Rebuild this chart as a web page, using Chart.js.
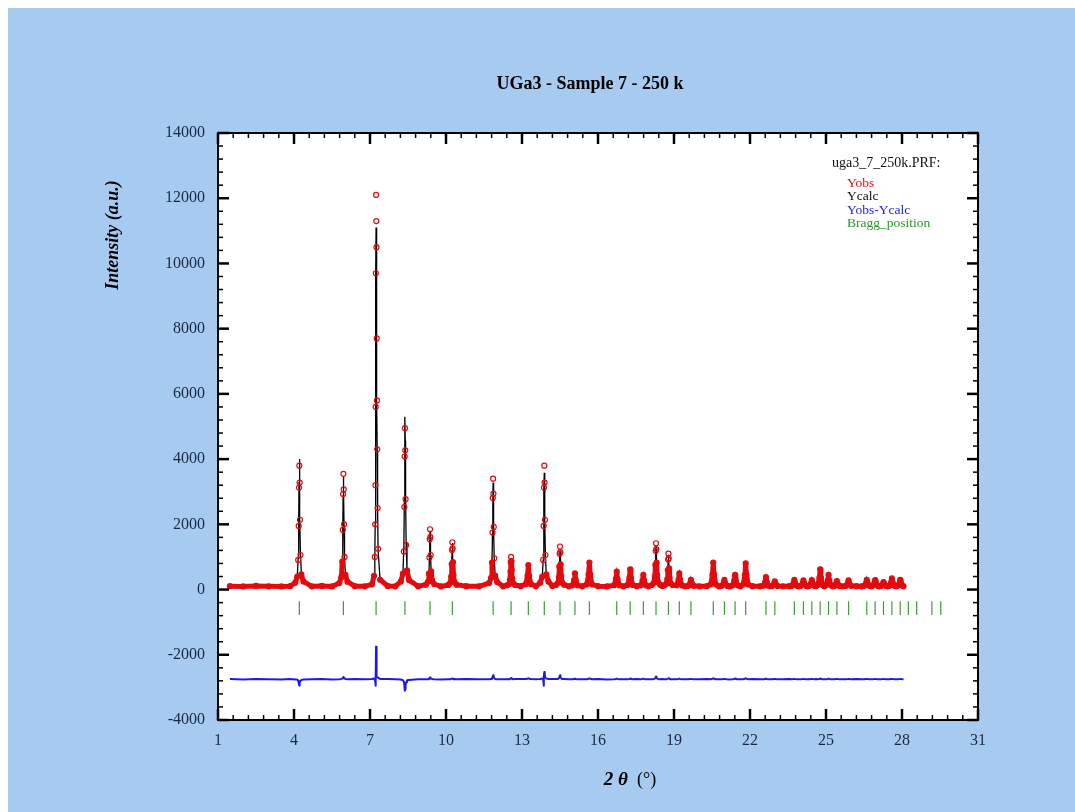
<!DOCTYPE html>
<html>
<head>
<meta charset="utf-8">
<script src="https://cdn.jsdelivr.net/npm/chart.js@4.4.0/dist/chart.umd.min.js"></script>
<style>
  html, body { margin: 0; padding: 0; background: #fff; }
  .frame { position: absolute; left: 8px; top: 8px; width: 1067px; height: 804px; background: #a6caf0; }
  canvas { display: block; }
</style>
</head>
<body>
<div class="frame"><canvas id="prf" width="1067" height="804"></canvas></div>
<script>
// 2theta steps (background stretches + points through each peak)
const twoTheta = [
  1.47, 2.0, 2.5, 3.0, 3.5, 3.85,
  4.05, 4.13, 4.165, 4.185, 4.198, 4.21, 4.222, 4.235, 4.255, 4.29, 4.37,
  4.7, 5.1, 5.5,
  5.79, 5.87, 5.905, 5.925, 5.938, 5.95, 5.962, 5.975, 5.995, 6.03, 6.11,
  6.4, 6.8,
  7.08, 7.16, 7.19, 7.205, 7.215, 7.225, 7.232, 7.24, 7.248, 7.255, 7.265, 7.275, 7.285, 7.30, 7.32, 7.40,
  7.7, 8.0,
  8.22, 8.30, 8.335, 8.355, 8.368, 8.38, 8.392, 8.405, 8.425, 8.46, 8.54,
  8.9,
  9.21, 9.29, 9.325, 9.345, 9.358, 9.37, 9.382, 9.395, 9.415, 9.45, 9.53,
  9.8,
  10.09, 10.17, 10.205, 10.225, 10.238, 10.25, 10.262, 10.275, 10.295, 10.33, 10.41,
  10.8, 11.3,
  11.70, 11.78, 11.815, 11.835, 11.848, 11.86, 11.872, 11.885, 11.905, 11.94, 12.02,
  12.25,
  12.41, 12.49, 12.525, 12.545, 12.558, 12.57, 12.582, 12.595, 12.615, 12.65, 12.73,
  12.95,
  13.15, 13.22, 13.25, 13.28, 13.35,
  13.55,
  13.72, 13.80, 13.835, 13.855, 13.868, 13.88, 13.892, 13.905, 13.925, 13.96, 14.04,
  14.2,
  14.34, 14.42, 14.455, 14.475, 14.488, 14.50, 14.512, 14.525, 14.545, 14.58, 14.66,
  14.85,
  14.99, 15.06, 15.09, 15.12, 15.19,
  15.38,
  15.56, 15.63, 15.66, 15.69, 15.76,
  16.0, 16.35,
  16.64, 16.71, 16.74, 16.77, 16.84,
  17.0,
  17.17, 17.24, 17.27, 17.30, 17.37,
  17.53,
  17.69, 17.76, 17.79, 17.82, 17.89,
  18.0,
  18.13, 18.21, 18.245, 18.265, 18.278, 18.29, 18.302, 18.315, 18.335, 18.37, 18.45,
  18.54,
  18.62, 18.70, 18.735, 18.755, 18.768, 18.78, 18.792, 18.805, 18.825, 18.86, 18.94,
  19.11, 19.18, 19.21, 19.24, 19.31,
  19.44,
  19.57, 19.64, 19.67, 19.70, 19.77,
  20.0, 20.3,
  20.45, 20.52, 20.55, 20.58, 20.65,
  20.77,
  20.89, 20.96, 20.99, 21.02, 21.09,
  21.2,
  21.31, 21.38, 21.41, 21.44, 21.51,
  21.62,
  21.73, 21.80, 21.83, 21.86, 21.93,
  22.1, 22.4,
  22.53, 22.60, 22.63, 22.66, 22.73,
  22.8,
  22.88, 22.95, 22.98, 23.01, 23.08,
  23.3, 23.55,
  23.65, 23.72, 23.75, 23.78, 23.85,
  23.93,
  24.01, 24.08, 24.11, 24.14, 24.21,
  24.28,
  24.34, 24.41, 24.44, 24.47, 24.54,
  24.6,
  24.67, 24.74, 24.77, 24.80, 24.87,
  24.93,
  25.00, 25.07, 25.10, 25.13, 25.20,
  25.27,
  25.33, 25.40, 25.43, 25.46, 25.53,
  25.66,
  25.79, 25.86, 25.89, 25.92, 25.99,
  26.2, 26.4,
  26.51, 26.58, 26.61, 26.64, 26.71,
  26.78,
  26.84, 26.91, 26.94, 26.97, 27.04,
  27.1,
  27.17, 27.24, 27.27, 27.30, 27.37,
  27.44,
  27.50, 27.57, 27.60, 27.63, 27.70,
  27.77,
  27.83, 27.90, 27.93, 27.96, 28.03,
  28.06
];

const yObs = [
  105, 95, 110, 100, 95, 105,
  210, 400, 910, 1950, 3130, 3800, 3280, 2140, 1060, 470, 250,
  100, 110, 95,
  200, 380, 860, 1830, 2930, 3550, 3070, 2000, 1000, 450, 240,
  105, 100,
  160, 420, 1000, 2000, 3200, 5600, 9700, 12100, 11300, 10500, 7700, 5800, 4300, 2500, 1250, 300,
  110, 100,
  250, 490, 1170, 2530, 4080, 4950, 4270, 2770, 1360, 590, 290,
  100,
  150, 240, 490, 980, 1540, 1850, 1610, 1060, 560, 280, 170,
  95,
  140, 210, 400, 780, 1210, 1450, 1260, 840, 450, 240, 150,
  105, 100,
  200, 360, 830, 1750, 2810, 3400, 2940, 1920, 960, 430, 230,
  100,
  130, 170, 300, 550, 840, 1000, 870, 600, 330, 190, 140,
  105,
  165, 425, 750, 425, 165,
  100,
  210, 400, 910, 1950, 3130, 3800, 3280, 2140, 1060, 470, 250,
  110,
  140, 200, 370, 710, 1100, 1320, 1150, 770, 420, 220, 150,
  100,
  130, 300, 500, 300, 130,
  100,
  160, 465, 830, 465, 160,
  105, 95,
  135, 325, 550, 325, 135,
  100,
  140, 360, 620, 360, 140,
  105,
  130, 275, 450, 275, 130,
  100,
  140, 210, 390, 760, 1180, 1420, 1240, 830, 440, 230, 150,
  110,
  130, 180, 320, 600, 920, 1100, 960, 650, 360, 200, 140,
  130, 300, 500, 300, 130,
  100,
  115, 200, 300, 200, 115,
  100, 105,
  160, 465, 830, 465, 160,
  100,
  115, 200, 300, 200, 115,
  95,
  130, 275, 450, 275, 130,
  100,
  155, 450, 800, 450, 155,
  105, 100,
  120, 240, 380, 240, 120,
  100,
  110, 175, 250, 175, 110,
  100, 105,
  115, 200, 300, 200, 115,
  100,
  115, 190, 280, 190, 115,
  100,
  115, 195, 290, 195, 115,
  105,
  140, 360, 620, 360, 140,
  100,
  130, 275, 450, 275, 130,
  100,
  110, 180, 260, 180, 110,
  100,
  115, 190, 280, 190, 115,
  105, 100,
  115, 200, 300, 200, 115,
  100,
  115, 195, 290, 195, 115,
  100,
  110, 165, 230, 165, 110,
  100,
  120, 220, 340, 220, 120,
  100,
  115, 200, 300, 200, 115,
  100
];

const yCalc = [
  100, 100, 100, 100, 100, 100,
  220, 410, 960, 2050, 3300, 4000, 3450, 2250, 1110, 490, 260,
  100, 100, 100,
  200, 370, 840, 1790, 2870, 3480, 3010, 1960, 980, 440, 240,
  100, 100,
  150, 400, 980, 2050, 3350, 5800, 9600, 11100, 10900, 10300, 7600, 5750, 4250, 2450, 1200, 290,
  100, 100,
  260, 520, 1240, 2700, 4360, 5300, 4570, 2960, 1450, 620, 310,
  100,
  150, 240, 470, 950, 1490, 1800, 1560, 1040, 540, 270, 170,
  100,
  140, 210, 390, 770, 1190, 1430, 1240, 830, 450, 230, 150,
  100, 100,
  200, 350, 800, 1690, 2710, 3280, 2840, 1850, 930, 420, 230,
  100,
  130, 170, 290, 530, 810, 960, 840, 570, 320, 190, 130,
  100,
  160, 410, 720, 410, 160,
  100,
  200, 380, 900, 2150, 3050, 3580, 3090, 2010, 1010, 450, 240,
  100,
  130, 190, 340, 650, 1000, 1200, 1050, 710, 390, 210, 140,
  100,
  130, 290, 480, 290, 130,
  100,
  160, 450, 800, 450, 160,
  100, 100,
  135, 315, 530, 315, 135,
  100,
  140, 350, 600, 350, 140,
  100,
  130, 265, 430, 265, 130,
  100,
  140, 200, 370, 720, 1120, 1340, 1170, 780, 420, 220, 150,
  100,
  130, 180, 310, 590, 900, 1070, 930, 630, 350, 200, 140,
  130, 290, 480, 290, 130,
  100,
  115, 195, 290, 195, 115,
  100, 100,
  160, 450, 800, 450, 160,
  100,
  115, 195, 290, 195, 115,
  100,
  130, 265, 430, 265, 130,
  100,
  155, 435, 770, 435, 155,
  100, 100,
  120, 230, 360, 230, 120,
  100,
  110, 170, 240, 170, 110,
  100, 100,
  115, 195, 290, 195, 115,
  100,
  115, 185, 270, 185, 115,
  100,
  115, 190, 280, 190, 115,
  100,
  140, 350, 600, 350, 140,
  100,
  130, 265, 430, 265, 130,
  100,
  110, 175, 250, 175, 110,
  100,
  115, 185, 270, 185, 115,
  100, 100,
  115, 195, 290, 195, 115,
  100,
  115, 190, 280, 190, 115,
  100,
  110, 160, 220, 160, 110,
  100,
  120, 215, 330, 215, 120,
  100,
  115, 195, 290, 195, 115,
  100
];

// Yobs-Ycalc is plotted shifted down by this amount
const diffOffset = -2750;

// Bragg reflection positions (green ticks)
const braggPos = [
  4.21, 5.95, 7.24, 8.38, 9.37, 10.25, 11.86, 12.57, 13.25, 13.88, 14.50, 15.09, 15.66,
  16.74, 17.27, 17.79, 18.29, 18.78, 19.21, 19.67, 20.55, 20.99, 21.41, 21.83,
  22.63, 22.98, 23.75, 24.11, 24.44, 24.77, 25.10, 25.43, 25.89,
  26.61, 26.94, 27.27, 27.60, 27.93, 28.25, 28.58, 29.18, 29.53
];
const braggTop = -360;
const braggBottom = -780;

const xTickValues = [1, 4, 7, 10, 13, 16, 19, 22, 25, 28, 31];
const yTickValues = [-4000, -2000, 0, 2000, 4000, 6000, 8000, 10000, 12000, 14000];

const serif = '"Liberation Serif", "Times New Roman", serif';
const red = 'rgb(228, 10, 14)';

const obsPoints = twoTheta.map((x, i) => ({ x: x, y: yObs[i] }));
const calcPoints = twoTheta.map((x, i) => ({ x: x, y: yCalc[i] }));
const diffPoints = twoTheta.map((x, i) => ({ x: x, y: yObs[i] - yCalc[i] + diffOffset }));
const braggPoints = [];
braggPos.forEach(p => {
  braggPoints.push({ x: p, y: braggTop }, { x: p, y: braggBottom }, { x: p, y: null });
});

const prfPlugin = {
  id: 'prfDecor',
  beforeDraw(chart) {
    const { ctx, chartArea: a } = chart;
    ctx.save();
    ctx.fillStyle = '#fff';
    ctx.fillRect(a.left, a.top, a.right - a.left, a.bottom - a.top);
    ctx.restore();
  },
  afterDatasetsDraw(chart) {
    const { ctx, chartArea: a } = chart;
    const xs = chart.scales.x, ys = chart.scales.y;
    ctx.save();
    ctx.strokeStyle = '#000';
    const tick = (x1, y1, x2, y2) => { ctx.beginPath(); ctx.moveTo(x1, y1); ctx.lineTo(x2, y2); ctx.stroke(); };

    ctx.lineWidth = 1.5;
    for (let i = 1; i < 50; i++) {
      if (i % 5 === 0) continue;
      const px = xs.getPixelForValue(1 + i * 0.6);
      tick(px, a.bottom, px, a.bottom - 5);
      tick(px, a.top, px, a.top + 5);
    }
    for (let i = 1; i < 45; i++) {
      if (i % 5 === 0) continue;
      const py = ys.getPixelForValue(-4000 + i * 400);
      tick(a.left, py, a.left + 5, py);
      tick(a.right, py, a.right - 5, py);
    }
    ctx.lineWidth = 2.5;
    xTickValues.forEach(v => {
      const px = xs.getPixelForValue(v);
      tick(px, a.bottom, px, a.bottom - 11);
      tick(px, a.top, px, a.top + 11);
    });
    yTickValues.forEach(v => {
      const py = ys.getPixelForValue(v);
      tick(a.left, py, a.left + 11, py);
      tick(a.right, py, a.right - 11, py);
    });
    ctx.lineWidth = 2;
    ctx.strokeRect(a.left, a.top, a.right - a.left, a.bottom - a.top);
    ctx.restore();
  },
  afterDraw(chart) {
    const { ctx } = chart;
    ctx.save();
    ctx.fillStyle = '#000';
    ctx.textBaseline = 'middle';

    // title
    ctx.textAlign = 'center';
    ctx.font = 'bold 18px ' + serif;
    ctx.fillText('UGa3 - Sample 7 - 250 k', 582, 76);

    // y axis title
    ctx.save();
    ctx.translate(105, 227);
    ctx.rotate(-Math.PI / 2);
    ctx.font = 'italic bold 18px ' + serif;
    ctx.fillText('Intensity (a.u.)', 0, 0);
    ctx.restore();

    // x axis title
    ctx.textAlign = 'left';
    ctx.font = 'italic bold 19px ' + serif;
    const part1 = '2 θ';
    const w1 = ctx.measureText(part1).width;
    ctx.font = '18px ' + serif;
    const part2 = '  (°)';
    const w2 = ctx.measureText(part2).width;
    const x0 = 622 - (w1 + w2) / 2;
    ctx.font = 'italic bold 19px ' + serif;
    ctx.fillText(part1, x0, 772);
    ctx.font = '18px ' + serif;
    ctx.fillText(part2, x0 + w1, 772);

    // legend
    ctx.font = '14px ' + serif;
    ctx.fillStyle = '#111';
    ctx.fillText('uga3_7_250k.PRF:', 824, 155);
    ctx.font = '13.5px ' + serif;
    const items = [['Yobs', red], ['Ycalc', '#111'], ['Yobs-Ycalc', '#2424e0'], ['Bragg_position', '#2b942b']];
    items.forEach((it, i) => {
      ctx.fillStyle = it[1];
      ctx.fillText(it[0], 839, 175 + i * 13.5);
    });
    ctx.restore();
  }
};

const tickFont = { family: serif, size: 16 };
const tickColor = '#1b2a44';

new Chart(document.getElementById('prf').getContext('2d'), {
  type: 'line',
  data: {
    datasets: [
      {
        label: 'Yobs',
        data: obsPoints,
        order: 0,
        borderColor: red,
        borderWidth: 5,
        borderJoinStyle: 'round',
        borderCapStyle: 'round',
        segment: {
          borderColor: c => (c.p0.parsed.y < 900 && c.p1.parsed.y < 900) ? red : 'rgba(0,0,0,0)'
        },
        pointRadius: 2.5,
        pointBorderWidth: 1.2,
        pointBorderColor: red,
        pointBackgroundColor: 'rgba(0,0,0,0)',
        tension: 0
      },
      {
        label: 'Ycalc',
        data: calcPoints,
        order: 1,
        borderColor: '#000',
        borderWidth: 1.3,
        pointRadius: 0,
        tension: 0
      },
      {
        label: 'Yobs-Ycalc',
        data: diffPoints,
        order: 2,
        borderColor: '#1c1ce0',
        borderWidth: 2,
        borderJoinStyle: 'round',
        pointRadius: 0,
        tension: 0
      },
      {
        label: 'Bragg_position',
        data: braggPoints,
        order: 3,
        borderColor: '#3f9a3f',
        borderWidth: 1.2,
        pointRadius: 0,
        spanGaps: false
      }
    ]
  },
  options: {
    responsive: false,
    animation: false,
    devicePixelRatio: 1,
    layout: { padding: { top: 125, right: 97, left: 0, bottom: 0 } },
    plugins: {
      legend: { display: false },
      tooltip: { enabled: false },
      title: { display: false }
    },
    scales: {
      x: {
        type: 'linear',
        min: 1,
        max: 31,
        afterBuildTicks: s => { s.ticks = xTickValues.map(v => ({ value: v })); },
        afterFit: s => { s.height = 92; },
        grid: { display: false, drawTicks: false },
        border: { display: false },
        ticks: { font: tickFont, color: tickColor, padding: 11, maxRotation: 0, autoSkip: false, callback: v => String(v) }
      },
      y: {
        type: 'linear',
        min: -4000,
        max: 14000,
        afterBuildTicks: s => { s.ticks = yTickValues.map(v => ({ value: v })); },
        afterFit: s => { s.width = 210; },
        grid: { display: false, drawTicks: false },
        border: { display: false },
        ticks: { font: tickFont, color: tickColor, padding: 13, autoSkip: false, callback: v => String(v) }
      }
    }
  },
  plugins: [prfPlugin]
});
</script>
</body>
</html>
